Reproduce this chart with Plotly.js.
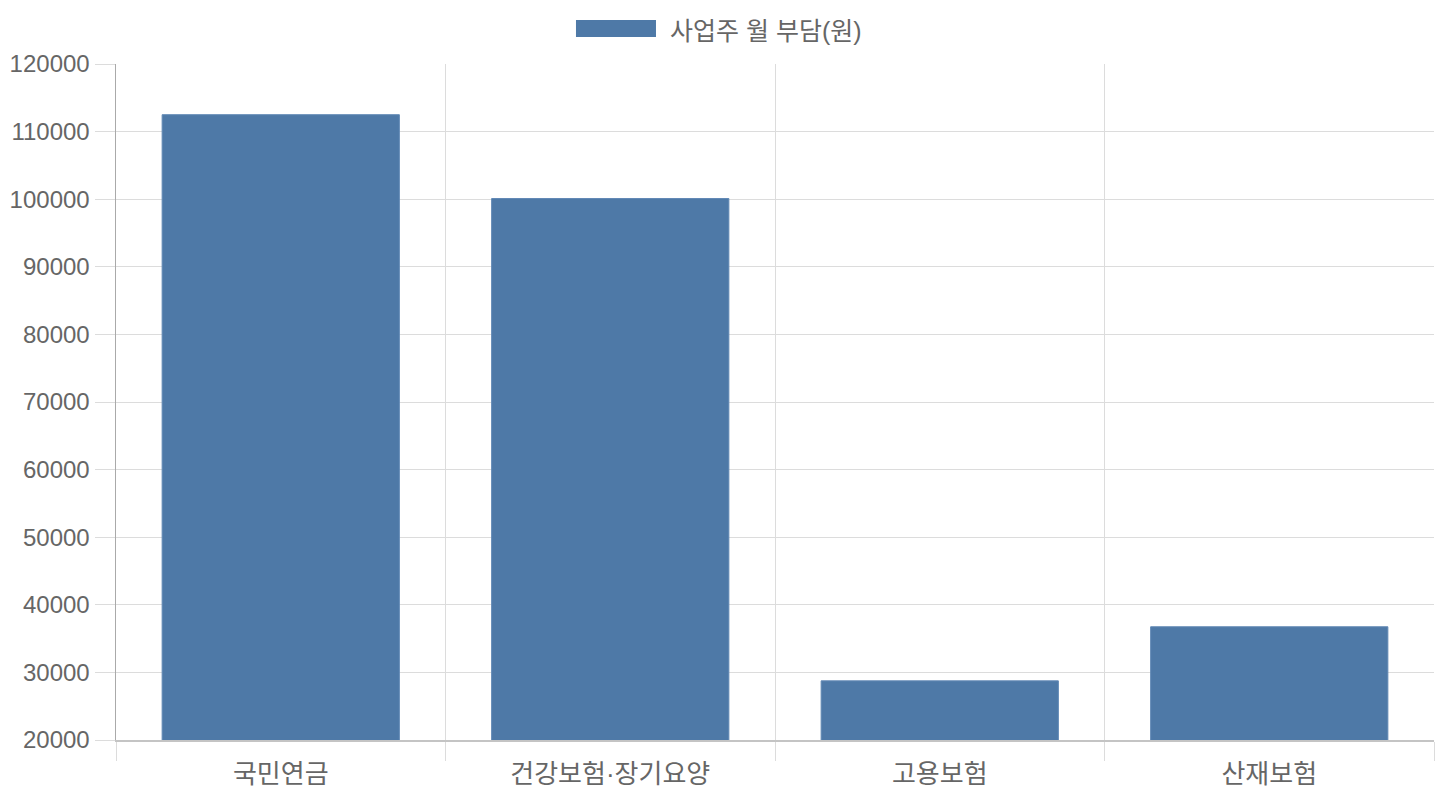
<!DOCTYPE html>
<html>
<head>
<meta charset="utf-8">
<script src="https://cdn.plot.ly/plotly-3.0.1.min.js"></script>
<style>
  html, body { margin: 0; padding: 0; background: #fff; }
  #graph { width: 1440px; height: 800px; }
</style>
</head>
<body>
<div id="graph"></div>
<script>
// data
const categories = ['국민연금', '건강보험·장기요양', '고용보험', '산재보험'];
const employerMonthly = [112500, 100100, 28750, 36750];
const seriesName = '사업주 월 부담(원)';

const barColor = '#4e79a7';
const textColor = '#666666';
const fontFamily = 'Liberation Sans, Arial, Noto Sans CJK KR, sans-serif';
const krFamily = 'Liberation Sans, Noto Sans CJK KR, sans-serif';

var trace = {
    x: categories,
    y: employerMonthly,
    name: seriesName,
    type: 'bar',
    width: 0.72,
    marker: {color: barColor, line: {color: '#6189b5', width: 1}},
    hoverinfo: 'x+y'
};

var layout = {
    width: 1440,
    height: 800,
    paper_bgcolor: '#fff',
    plot_bgcolor: '#fff',
    margin: {l: 116, r: 6, t: 64, b: 60},
    showlegend: false,
    font: {family: fontFamily, size: 24, color: textColor},
    xaxis: {
        type: 'category',
        tickson: 'boundaries',
        ticks: 'outside',
        ticklen: 19,
        tickcolor: '#dcdcdc',
        showgrid: true,
        gridcolor: '#dcdcdc',
        showline: true,
        linecolor: '#c4c4c4',
        linewidth: 1.5,
        ticklabelstandoff: 10,
        tickfont: {family: krFamily, size: 26, color: textColor},
        fixedrange: true
    },
    yaxis: {
        range: [20000, 120000],
        dtick: 10000,
        tickformat: 'd',
        ticks: 'outside',
        ticklen: 20,
        tickcolor: '#dcdcdc',
        gridcolor: '#dcdcdc',
        showline: true,
        linecolor: '#aaaaaa',
        linewidth: 1.5,
        zeroline: false,
        tickfont: {family: fontFamily, size: 24, color: textColor},
        fixedrange: true
    },
    // legend drawn as a wide box + label, like the original
    shapes: [{
        type: 'rect',
        xref: 'paper', yref: 'paper',
        x0: 0.349, x1: 0.4097,
        y0: 1.0399, y1: 1.065,
        fillcolor: barColor,
        line: {width: 0}
    }],
    annotations: [{
        xref: 'paper', yref: 'paper',
        x: 0.4188, y: 1.0495,
        xanchor: 'left', yanchor: 'middle',
        showarrow: false,
        text: seriesName,
        font: {family: krFamily, size: 25, color: textColor}
    }]
};

Plotly.newPlot('graph', [trace], layout, {displayModeBar: false, staticPlot: true});
</script>
</body>
</html>
